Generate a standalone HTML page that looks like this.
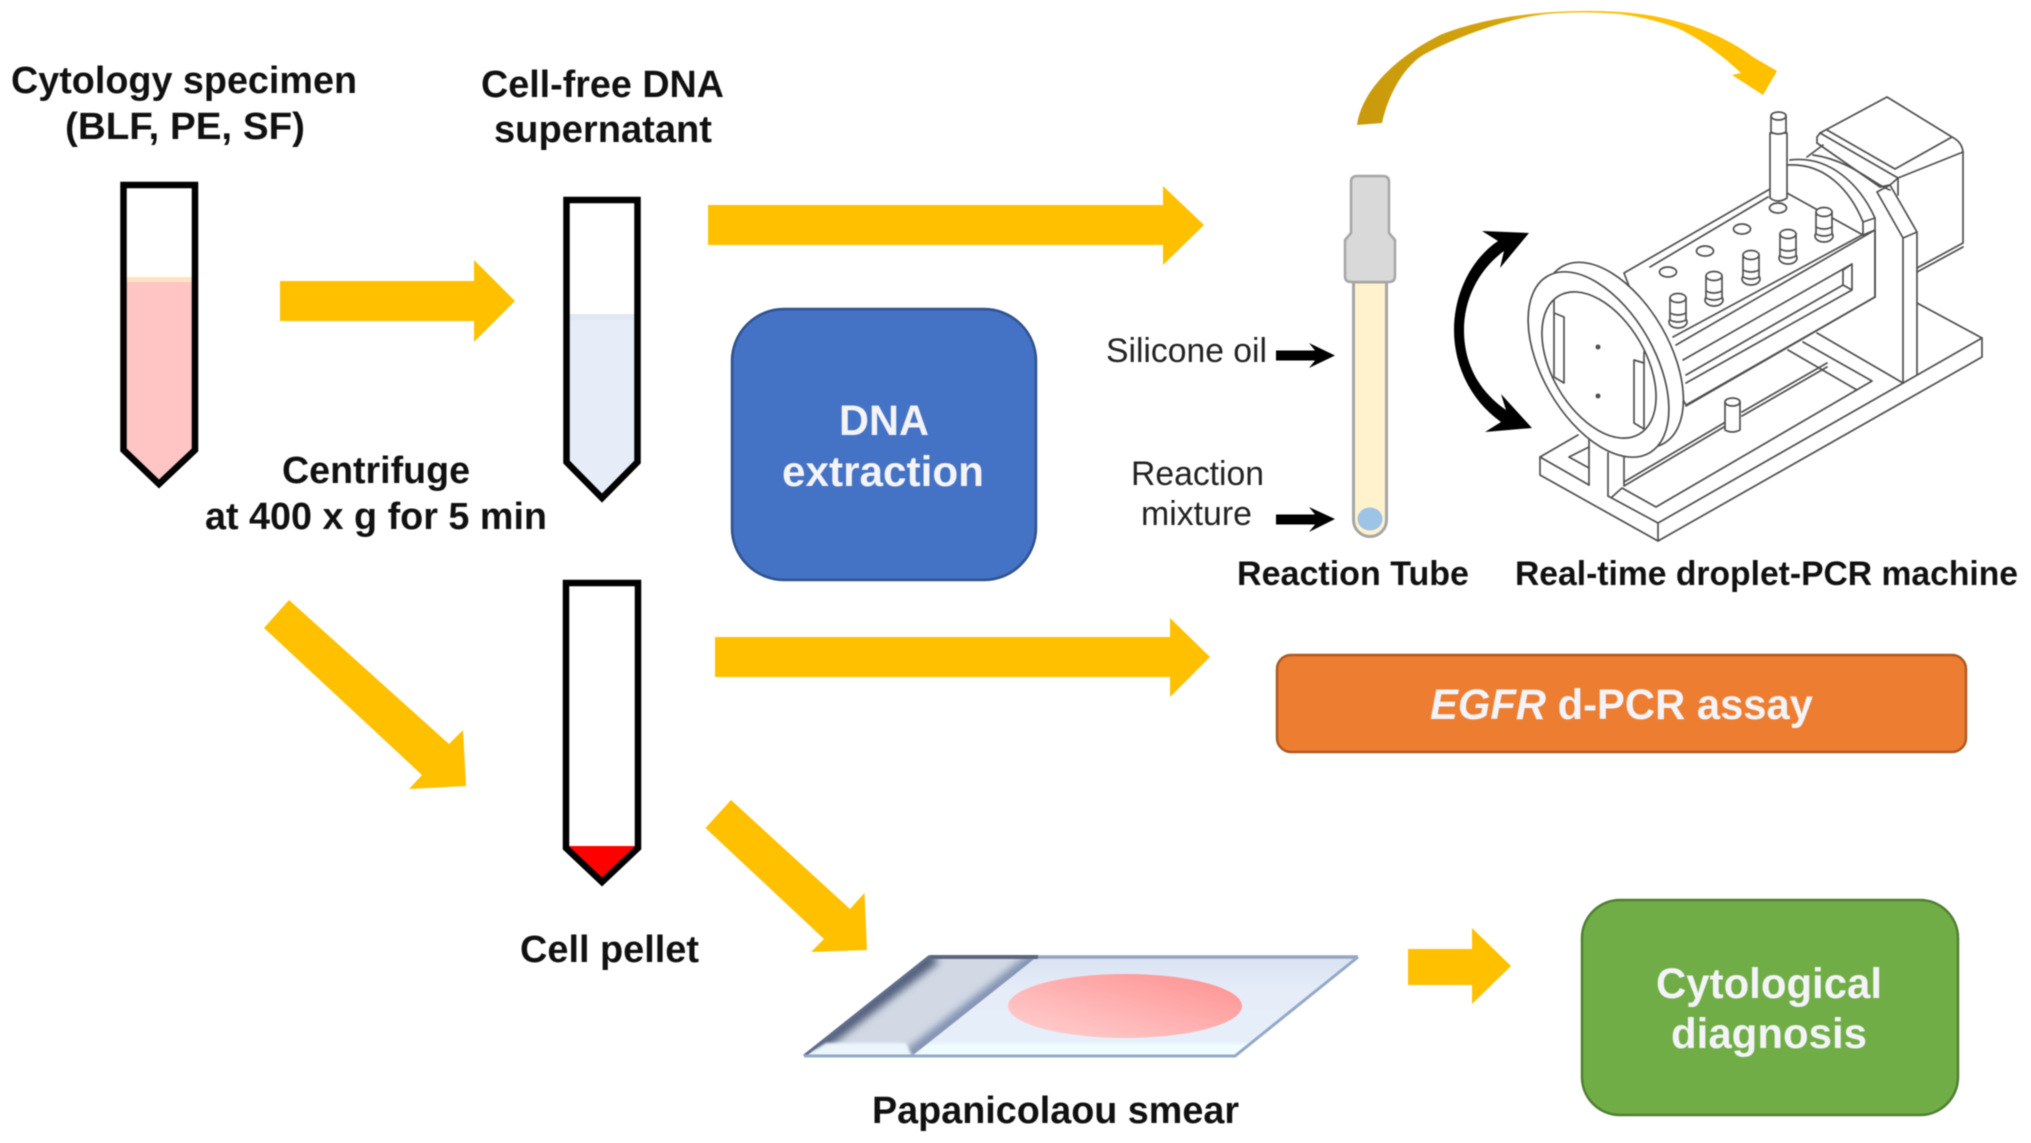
<!DOCTYPE html>
<html><head><meta charset="utf-8"><style>
html,body{margin:0;padding:0;background:#fff}
svg{display:block;filter:blur(.6px)}
text{font-family:"Liberation Sans",Arial,sans-serif;fill:#111}
.b{font-weight:bold;font-size:38px}
.s{font-weight:bold;font-size:34px}
.r{font-size:34px;fill:#222}
.w{font-weight:bold;font-size:43px;fill:#f4f4f8}
.m{fill:#fff;stroke:#505050;stroke-width:1.7;stroke-linejoin:round}
.l{fill:none;stroke:#505050;stroke-width:1.7;stroke-linejoin:round;stroke-linecap:round}
</style></head><body>
<svg width="2031" height="1143" viewBox="0 0 2031 1143" xmlns="http://www.w3.org/2000/svg">
<defs>
<linearGradient id="gold" gradientUnits="userSpaceOnUse" x1="1357" x2="1778" y1="0" y2="0"><stop offset="0" stop-color="#c99a0c"/><stop offset=".33" stop-color="#d4a30a"/><stop offset=".5" stop-color="#f5c020"/><stop offset=".65" stop-color="#ffc000"/><stop offset="1" stop-color="#ffc000"/></linearGradient>
<linearGradient id="pink" x1="0" x2="1" y1="1" y2="0"><stop offset="0" stop-color="#ffd2d2"/><stop offset="1" stop-color="#ff8f8f"/></linearGradient>
<linearGradient id="slide" x1="0" x2="0" y1="0" y2="1"><stop offset="0" stop-color="#d9e2f1"/><stop offset=".35" stop-color="#e6edf9"/><stop offset=".85" stop-color="#e6eff9"/><stop offset=".9" stop-color="#f0fdff"/><stop offset="1" stop-color="#eefcff"/></linearGradient>
<filter id="bl" x="-30%" y="-30%" width="160%" height="160%"><feGaussianBlur stdDeviation="4"/></filter>
<filter id="bs" x="-30%" y="-30%" width="160%" height="160%"><feGaussianBlur stdDeviation="1.200"/></filter>
<clipPath id="labc"><path d="M804 1056L930 956H1038L912 1056Z"/></clipPath>
</defs>
<rect width="2031" height="1143" fill="#fff"/>

<!-- tubes -->
<path d="M123.500 277H195V450L159 482L123.500 450Z" fill="#ffc4c4"/>
<rect x="124" y="277" width="71" height="5" fill="#ffe2c4"/>
<path d="M123.500 185H195V450L159 484L123.500 450Z" fill="none" stroke="#000" stroke-width="6.500"/>
<path d="M566.500 314H637.500V462L602 498L566.500 462Z" fill="#e6edf8"/>
<rect x="566.500" y="314" width="71" height="6" fill="#dfe8f3"/>
<path d="M566.500 200H637.500V462L602 498L566.500 462Z" fill="none" stroke="#000" stroke-width="6.500"/>
<path d="M566 846H637L601.500 882Z" fill="#ff0000"/>
<path d="M566 583H638V848L602 882L566 848Z" fill="none" stroke="#000" stroke-width="6.500"/>

<!-- yellow arrows -->
<g fill="#ffc000">
<path d="M280 281H474V260L515 301L474 342V321H280Z"/>
<path d="M708 205H1163V186L1204 225L1163 265V245H708Z"/>
<path d="M715 637H1170V618L1210 657L1170 697V677H715Z"/>
<path d="M289 600L449 744L463 730L466 786L409 789L422 775L264 628Z"/>
<path d="M731 800L850 909L864.500 893L867 950L811 952L824 939L705.500 828Z"/>
<path d="M1408 949H1472V928L1511 966L1472 1004V985H1408Z"/>
</g>

<!-- boxes -->
<rect x="732" y="309" width="304" height="271" rx="52" fill="#4472c4" stroke="#2f528f" stroke-width="2.500"/>
<rect x="1277" y="655" width="689" height="97" rx="14" fill="#ed7d31" stroke="#ae5a21" stroke-width="2.500"/>
<rect x="1582" y="900" width="376" height="215" rx="38" fill="#70ad47" stroke="#507e32" stroke-width="2.500"/>

<!-- slide -->
<path d="M804 1056L930 956H1358L1235 1056Z" fill="url(#slide)"/>
<path d="M804 1056L930 956H1038L912 1056Z" fill="#d2d9e5"/>
<g clip-path="url(#labc)">
<path d="M812 1050L934 956" stroke="#55627e" stroke-width="16" fill="none" filter="url(#bl)"/>
<path d="M908 1056L1036 956" stroke="#7f8fb0" stroke-width="12" fill="none" filter="url(#bl)"/>
<path d="M925 961H1045" stroke="#8893aa" stroke-width="18" fill="none" filter="url(#bl)"/>
<path d="M804 1056L826 1043H906L912 1056Z" fill="#eaf6fb" filter="url(#bs)"/>
</g>
<path d="M930 957H1038" stroke="#5b6780" stroke-width="4"/>
<path d="M804 1056L930 956" stroke="#5f6e8c" stroke-width="3"/>
<path d="M1038 957H1358" stroke="#97a5c1" stroke-width="3.500"/>
<path d="M804 1056H1235L1358 957" stroke="#93a9c9" stroke-width="3" fill="none"/>
<ellipse cx="1125" cy="1006" rx="117" ry="32" fill="url(#pink)"/>

<!-- curved gold arrow -->
<path d="M1357 125C1362 90 1395 58 1440 35C1490 15 1560 8 1620 12C1670 15 1720 32 1753 57L1777 71L1763 95L1732 75L1741 73C1725 58 1700 38 1677 28C1655 20 1640 17 1620 14C1595 12 1570 12 1547 14C1510 18 1460 35 1423 55C1403 68 1388 95 1382 123Z" fill="url(#gold)"/>

<!-- reaction tube -->
<path d="M1353.500 282H1386.500V520A16.500 16.500 0 0 1 1353.500 520Z" fill="#fff2cc" stroke="#a6a6a6" stroke-width="3"/>
<ellipse cx="1370" cy="519" rx="12.500" ry="11.500" fill="#9dc3e6"/>
<path d="M1351 182Q1351 176 1357 176H1383Q1389 176 1389 182V233L1395 240V276Q1395 282 1389 282H1351Q1345 282 1345 276V240L1351 233Z" fill="#d9d9d9" stroke="#a6a6a6" stroke-width="2.500"/>

<!-- small black arrows -->
<path d="M1276 350.500H1315L1309 343L1335 355.500L1309 368L1315 360.500H1276Z" fill="#000"/>
<path d="M1276 514.500H1315L1309 507L1335 519L1309 532L1315 524.500H1276Z" fill="#000"/>

<!-- black double arrow -->
<path d="M1529 233L1482 231L1498 241C1470 260 1454 295 1454 330C1454 365 1470 400 1501 422L1485 432L1532 428L1501 394L1506 410C1480 392 1464 365 1464 330C1464 300 1478 270 1504 251L1500 268Z" fill="#000"/>

<!-- machine -->
<g>
<!-- base -->
<path class="l" d="M1578 435L1540 457V475L1658 541L1982 357V338L1917 303"/>
<path class="l" d="M1540 457L1589 485M1608 496L1658 523L1982 338M1658 523V541"/>
<path class="l" d="M1612 497L1622 488L1656 507L1872 381L1803 342M1788 350L1857 390M1817 333L1903 383"/>
<path class="l" d="M1569 457L1589 447M1569 457L1589 468"/>
<path class="l" d="M1589 437V485M1608 453V496M1624 457V485"/>
<!-- motor -->
<path class="l" d="M1820 133L1887 97L1952 137Q1962 142 1963 152V243L1917 268M1963 247L1917 272"/>
<path class="l" d="M1827 130L1895 169L1952 137M1898 178L1963 152M1817 143V137L1820 133L1898 178V195"/>
<path class="l" d="M1817 143L1880 187L1890 185L1898 178"/>
<!-- upright -->
<path class="l" d="M1877 192L1890 185L1917 232V374M1877 192L1903 238V383M1903 238L1917 232"/>
<!-- body -->
<path class="m" d="M1624 273L1770 189L1787 193L1863 235L1875 230V297L1686 405L1650 340Z"/>
<path class="l" d="M1650 267L1768 197M1673 337L1862 235M1676 345L1875 230"/>
<path class="l" d="M1852 264L1843 270V285L1852 290V264M1852 264L1683 360M1843 285L1686 375M1852 290L1686 383"/>
<path class="l" d="M1686 406L1875 297" stroke-width="2.200"/>
<!-- arcs -->
<path class="l" d="M1788 165C1825 163 1850 190 1863 222V235M1790 160C1830 155 1860 185 1875 218V297M1863 222L1875 218M1807 157L1823 145M1813 155C1850 160 1875 185 1890 190"/>
<!-- rail -->
<path class="l" d="M1827 363L1742 412M1827 367L1742 416M1729 420L1624 482M1729 424L1624 486"/>
<path class="m" d="M1725 402V430Q1732 434 1740 430V402Z"/>
<ellipse class="m" cx="1732.500" cy="402" rx="7.500" ry="4"/>
<!-- holes -->
<ellipse class="m" cx="1668" cy="272" rx="8.500" ry="5"/>
<ellipse class="m" cx="1705" cy="251" rx="8.500" ry="5"/>
<ellipse class="m" cx="1742" cy="229" rx="8.500" ry="5"/>
<ellipse class="m" cx="1778" cy="208" rx="8.500" ry="5"/>
<!-- tall pin -->
<path class="m" d="M1770 133H1787V198Q1778 204 1770 198Z"/>
<path class="m" d="M1771 116H1786V132Q1778 136 1771 132Z"/>
<ellipse class="m" cx="1778.500" cy="116" rx="7.500" ry="4"/>
<!-- knobs -->
<g id="k">
<ellipse class="m" cx="1678" cy="322" rx="9" ry="6"/>
<path class="m" d="M1670 298V320Q1678 324 1686 320V298Z"/>
<ellipse class="m" cx="1678" cy="298" rx="8" ry="4.500"/>
<path class="l" d="M1670 313Q1678 317 1686 313" stroke-width="2.500"/>
</g>
<use href="#k" x="36" y="-22"/>
<use href="#k" x="73" y="-43"/>
<use href="#k" x="110" y="-64"/>
<use href="#k" x="146" y="-86"/>
<!-- ring -->
<ellipse class="m" cx="1613" cy="355" rx="56" ry="102" transform="rotate(-30 1613 355)"/>
<ellipse class="m" cx="1598.500" cy="364.500" rx="56" ry="102" transform="rotate(-30 1598.500 364.500)"/>
<ellipse class="m" cx="1599" cy="365" rx="47" ry="80" transform="rotate(-30 1599 365)"/>
<path class="l" d="M1554 313L1564 317V383L1554 377ZM1554 300V377"/>
<path class="l" d="M1634 360L1644 363V429L1634 423ZM1644 352V429"/>
<circle cx="1598" cy="347" r="2.500" fill="#505050"/>
<circle cx="1598" cy="396" r="2.500" fill="#505050"/>
</g>

<!-- labels -->
<text class="b" x="11" y="93" textLength="346" lengthAdjust="spacingAndGlyphs">Cytology specimen</text>
<text class="b" x="65" y="139" textLength="240" lengthAdjust="spacingAndGlyphs">(BLF, PE, SF)</text>
<text class="b" x="481" y="97" textLength="243" lengthAdjust="spacingAndGlyphs">Cell-free DNA</text>
<text class="b" x="494" y="142" textLength="218" lengthAdjust="spacingAndGlyphs">supernatant</text>
<text class="b" x="282" y="483" textLength="188" lengthAdjust="spacingAndGlyphs">Centrifuge</text>
<text class="b" x="205" y="529" textLength="342" lengthAdjust="spacingAndGlyphs">at 400 x g for 5 min</text>
<text class="b" x="520" y="962" textLength="179" lengthAdjust="spacingAndGlyphs">Cell pellet</text>
<text class="b" x="872" y="1123" textLength="367" lengthAdjust="spacingAndGlyphs">Papanicolaou smear</text>
<text class="s" x="1237" y="585" textLength="232" lengthAdjust="spacingAndGlyphs">Reaction Tube</text>
<text class="s" x="1515" y="585" textLength="503" lengthAdjust="spacingAndGlyphs">Real-time droplet-PCR machine</text>
<text class="r" x="1106" y="362" textLength="161" lengthAdjust="spacingAndGlyphs">Silicone oil</text>
<text class="r" x="1131" y="485" textLength="133" lengthAdjust="spacingAndGlyphs">Reaction</text>
<text class="r" x="1141" y="525" textLength="111" lengthAdjust="spacingAndGlyphs">mixture</text>
<text class="w" x="839" y="435" textLength="90" lengthAdjust="spacingAndGlyphs">DNA</text>
<text class="w" x="782" y="486" textLength="202" lengthAdjust="spacingAndGlyphs">extraction</text>
<text class="w" x="1430" y="719" textLength="383" lengthAdjust="spacingAndGlyphs"><tspan font-style="italic">EGFR</tspan> d-PCR assay</text>
<text class="w" x="1656" y="998" textLength="226" lengthAdjust="spacingAndGlyphs">Cytological</text>
<text class="w" x="1671" y="1048" textLength="196" lengthAdjust="spacingAndGlyphs">diagnosis</text>
</svg>
</body></html>
